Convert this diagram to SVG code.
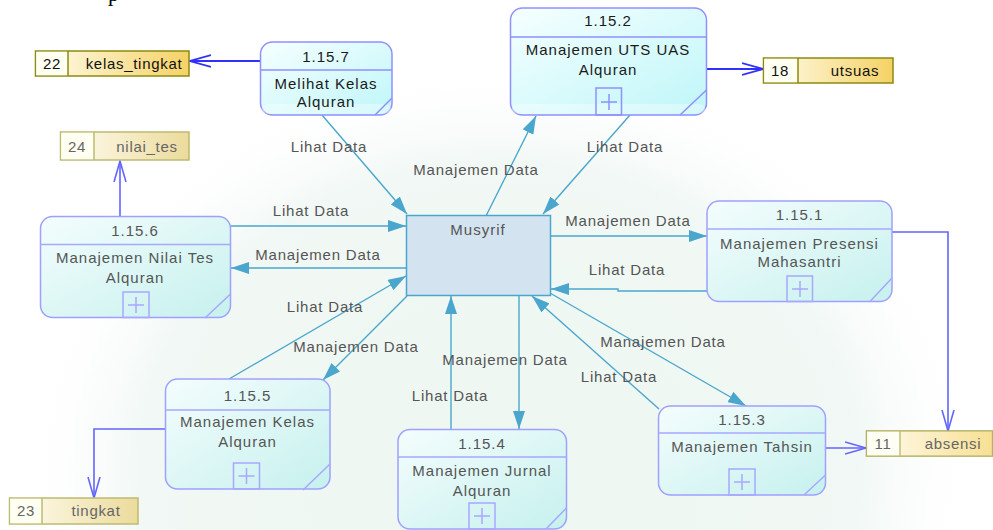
<svg xmlns="http://www.w3.org/2000/svg" width="993" height="530" viewBox="0 0 993 530">
<defs>
<linearGradient id="pg" x1="0" y1="0" x2="1" y2="1">
<stop offset="0" stop-color="#f6ffff"/>
<stop offset="1" stop-color="#bff6f9"/>
</linearGradient>
<linearGradient id="pgf" x1="0" y1="0" x2="1" y2="1">
<stop offset="0" stop-color="#f4fdfd"/>
<stop offset="1" stop-color="#c6f1ee"/>
</linearGradient>
<linearGradient id="sg" x1="0" y1="0" x2="1" y2="0">
<stop offset="0" stop-color="#fffcec"/>
<stop offset="1" stop-color="#f5d265"/>
</linearGradient>
<linearGradient id="sgf" x1="0" y1="0" x2="1" y2="0">
<stop offset="0" stop-color="#fffdf2"/>
<stop offset="1" stop-color="#ecdb9c"/>
</linearGradient>
<radialGradient id="wm" cx="0.5" cy="0.5" r="0.5">
<stop offset="0" stop-color="#eaf5ef"/>
<stop offset="0.75" stop-color="#eff7f3"/>
<stop offset="1" stop-color="#ffffff" stop-opacity="0"/>
</radialGradient>
<marker id="ta" viewBox="0 0 18 12" refX="18" refY="6" markerWidth="18" markerHeight="12" markerUnits="userSpaceOnUse" orient="auto">
<path d="M0,0 L18,6 L0,12 z" fill="#4aa6cc"/>
</marker>
<marker id="va" viewBox="0 0 22 14" refX="21" refY="7" markerWidth="22" markerHeight="14" markerUnits="userSpaceOnUse" orient="auto">
<path d="M0,1 L21,7 L0,13" fill="none" stroke="#3030ff" stroke-width="1.8"/>
</marker>
<marker id="vaf" viewBox="0 0 22 14" refX="21" refY="7" markerWidth="22" markerHeight="14" markerUnits="userSpaceOnUse" orient="auto">
<path d="M0,1 L21,7 L0,13" fill="none" stroke="#6464ff" stroke-width="1.6"/>
</marker>
</defs>
<style>
.lbl{font-family:"Liberation Sans",Arial,sans-serif;font-size:15px;fill:#555;letter-spacing:0.8px;text-anchor:middle}
.nt{font-family:"Liberation Sans",Arial,sans-serif;font-size:15px;fill:#1a1a1a;letter-spacing:1px;text-anchor:middle}
.ntf{font-family:"Liberation Sans",Arial,sans-serif;font-size:15px;fill:#555;letter-spacing:1px;text-anchor:middle}
.st{font-family:"Liberation Sans",Arial,sans-serif;font-size:15px;fill:#111;letter-spacing:0.7px;text-anchor:middle}
.stf{font-family:"Liberation Sans",Arial,sans-serif;font-size:15px;fill:#666;letter-spacing:0.7px;text-anchor:middle}
.pb{fill:url(#pg);stroke:#9090ff;stroke-width:1.5}
.pbf{fill:url(#pgf);stroke:#a0a0ff;stroke-width:1.5}
.ln{stroke:#9090ff;stroke-width:1.5;fill:none}
.lnf{stroke:#a8a8ff;stroke-width:1.5;fill:none}
.con{stroke:#4aa6cc;stroke-width:1.4;fill:none;marker-end:url(#ta)}
.flow{stroke:#3030ff;stroke-width:1.8;fill:none;marker-end:url(#va)}
.flowf{stroke:#6464ff;stroke-width:1.6;fill:none;marker-end:url(#vaf)}
.sb{fill:url(#sg);stroke:#8c8a10;stroke-width:1.5}
.sbf{fill:url(#sgf);stroke:#bdbb70;stroke-width:1.5}
.sn{fill:#fffff2}
.mus{fill:#d3e3ef;stroke:#4aa6cc;stroke-width:1.5}
.shine{fill:#ffffff;opacity:0.35}
</style>
<rect x="0" y="0" width="993" height="530" fill="#ffffff"/>
<g id="watermark">
<ellipse cx="500" cy="470" rx="480" ry="410" fill="url(#wm)" opacity="0.85"/>
</g>
<text x="108" y="0.5" font-family="Liberation Serif,serif" font-size="22" fill="#000">p</text>

<g id="connectors">
<path class="con" d="M322,115 L407,214"/>
<path class="con" d="M486,216 L536,116"/>
<path class="con" d="M630,115 L543,214"/>
<path class="con" d="M231,226 L406,226"/>
<path class="con" d="M406,268 L231,268"/>
<path class="con" d="M229,379 L406,276"/>
<path class="con" d="M407,296 L323,380"/>
<path class="con" d="M519,296 L519,429"/>
<path class="con" d="M451,429 L451,296"/>
<path class="con" d="M550,293 L746,406"/>
<path class="con" d="M659,409 L532,296"/>
<path class="con" d="M551,236 L707,236"/>
<path class="con" d="M707,291 L618,291 L618,289 L551,289"/>
<path class="flow" d="M260,61 L190,61"/>
<path class="flow" d="M707,69 L763,69"/>
<path class="flowf" d="M120,216 L120,161"/>
<path class="flowf" d="M892,232 L948,232 L948,431"/>
<path class="flowf" d="M826,448 L866,448"/>
<path class="flowf" d="M165,429 L94,429 L94,498"/>
<text class="lbl" x="329" y="152">Lihat Data</text>
<text class="lbl" x="476" y="175">Manajemen Data</text>
<text class="lbl" x="625" y="152">Lihat Data</text>
<text class="lbl" x="311" y="216">Lihat Data</text>
<text class="lbl" x="318" y="260">Manajemen Data</text>
<text class="lbl" x="325" y="312">Lihat Data</text>
<text class="lbl" x="356" y="352">Manajemen Data</text>
<text class="lbl" x="505" y="365">Manajemen Data</text>
<text class="lbl" x="450" y="401">Lihat Data</text>
<text class="lbl" x="663" y="347">Manajemen Data</text>
<text class="lbl" x="619" y="382">Lihat Data</text>
<text class="lbl" x="628" y="226">Manajemen Data</text>
<text class="lbl" x="627" y="275">Lihat Data</text>
</g>

<g id="musyrif">
<rect class="mus" x="406.5" y="215.5" width="144" height="80"/>
<text class="ntf" x="478" y="235">Musyrif</text>
</g>

<g id="p1157">
<rect class="pb" x="260.5" y="42" width="131.5" height="73" rx="12"/>
<rect class="shine" x="261.5" y="104" width="129.5" height="10" rx="8"/>
<path class="ln" d="M260.5,70 H392 M375,115 L392,98"/>
<text class="nt" x="326" y="62">1.15.7</text>
<text class="nt" x="326" y="89">Melihat Kelas</text>
<text class="nt" x="326" y="107">Alquran</text>
</g>

<g id="p1152">
<rect class="pb" x="510.5" y="8" width="196" height="107" rx="12"/>
<rect class="shine" x="511.5" y="104" width="194" height="10" rx="8"/>
<path class="ln" d="M510.5,37 H706.5 M680,115 L706.5,90"/>
<rect class="ln" x="596" y="88" width="25.5" height="27"/>
<path class="ln" d="M601,102 H617 M609,94 V110"/>
<text class="nt" x="608" y="26">1.15.2</text>
<text class="nt" x="608" y="55">Manajemen UTS UAS</text>
<text class="nt" x="608" y="75">Alquran</text>
</g>

<g id="p1156">
<rect class="pbf" x="40.5" y="216.5" width="190" height="101" rx="12"/>
<path class="lnf" d="M40.5,244.5 H230.5 M205,318 L230.5,294"/>
<rect class="lnf" x="123" y="292" width="26" height="25.5"/>
<path class="lnf" d="M128,305 H144 M136,297 V313"/>
<text class="ntf" x="135" y="236">1.15.6</text>
<text class="ntf" x="135" y="263">Manajemen Nilai Tes</text>
<text class="ntf" x="135" y="283">Alquran</text>
</g>

<g id="p1151">
<rect class="pbf" x="707" y="201" width="185" height="100.5" rx="12"/>
<path class="lnf" d="M707,229 H892 M870,301.5 L892,278"/>
<rect class="lnf" x="787" y="276" width="25.5" height="25.5"/>
<path class="lnf" d="M792,289 H808 M800,281 V297"/>
<text class="ntf" x="799.5" y="220">1.15.1</text>
<text class="ntf" x="799.5" y="249">Manajemen Presensi</text>
<text class="ntf" x="799.5" y="267">Mahasantri</text>
</g>

<g id="p1155">
<rect class="pbf" x="165.5" y="379" width="164.5" height="110" rx="12"/>
<path class="lnf" d="M165.5,410 H330 M303,490 L330,464"/>
<rect class="lnf" x="233.5" y="463" width="26" height="26"/>
<path class="lnf" d="M238.5,476 H254.5 M246.5,468 V484"/>
<text class="ntf" x="247.5" y="401">1.15.5</text>
<text class="ntf" x="247.5" y="427">Manajemen Kelas</text>
<text class="ntf" x="247.5" y="447">Alquran</text>
</g>

<g id="p1154">
<rect class="pbf" x="398" y="429.5" width="168.5" height="99.5" rx="12"/>
<path class="lnf" d="M398,457 H566.5 M546,529 L566.5,508"/>
<rect class="lnf" x="469" y="503" width="26" height="26"/>
<path class="lnf" d="M474,516 H490 M482,508 V524"/>
<text class="ntf" x="482" y="449">1.15.4</text>
<text class="ntf" x="482" y="476">Manajemen Jurnal</text>
<text class="ntf" x="482" y="496">Alquran</text>
</g>

<g id="p1153">
<rect class="pbf" x="658.5" y="406" width="167" height="89" rx="12"/>
<path class="lnf" d="M658.5,433 H825.5 M804,495 L825.5,475"/>
<rect class="lnf" x="729" y="469" width="26" height="26"/>
<path class="lnf" d="M734,482 H750 M742,474 V490"/>
<text class="ntf" x="742" y="425">1.15.3</text>
<text class="ntf" x="742" y="452">Manajemen Tahsin</text>
</g>

<g id="s22">
<rect class="sb" x="35.5" y="51" width="153.5" height="25"/>
<rect class="sn" x="36.3" y="51.8" width="31.5" height="23.4"/>
<line x1="68" y1="51" x2="68" y2="76" stroke="#8c8a10" stroke-width="1.5"/>
<text class="st" x="52" y="69">22</text>
<text class="st" x="134" y="69">kelas_tingkat</text>
</g>

<g id="s24">
<rect class="sbf" x="60.5" y="132" width="128.5" height="28"/>
<rect class="sn" x="61.3" y="132.8" width="32.5" height="26.4"/>
<line x1="94" y1="132" x2="94" y2="160" stroke="#bdbb70" stroke-width="1.5"/>
<text class="stf" x="77" y="152">24</text>
<text class="stf" x="147" y="152">nilai_tes</text>
</g>

<g id="s18">
<rect class="sb" x="763.5" y="58" width="129.5" height="25"/>
<rect class="sn" x="764.3" y="58.8" width="33" height="23.4"/>
<line x1="798" y1="58" x2="798" y2="83" stroke="#8c8a10" stroke-width="1.5"/>
<text class="st" x="780" y="76">18</text>
<text class="st" x="855" y="76">utsuas</text>
</g>

<g id="s11">
<rect x="866.5" y="431" width="126" height="25" fill="url(#sg)" stroke="#a8a648" stroke-width="1.5"/>
<rect class="sn" x="867.3" y="431.8" width="32" height="23.4" fill-opacity="0.9"/>
<line x1="900" y1="431" x2="900" y2="456" stroke="#a8a648" stroke-width="1.5"/>
<rect x="866.5" y="431" width="126" height="25" fill="#ffffff" opacity="0.3"/>
<text class="stf" x="883" y="449">11</text>
<text class="stf" x="953" y="449">absensi</text>
</g>

<g id="s23">
<rect class="sbf" x="9.5" y="498" width="128.5" height="26"/>
<rect class="sn" x="10.3" y="498.8" width="31.5" height="24.4"/>
<line x1="42" y1="498" x2="42" y2="524" stroke="#bdbb70" stroke-width="1.5"/>
<text class="stf" x="26" y="516">23</text>
<text class="stf" x="96" y="516">tingkat</text>
</g>
</svg>
